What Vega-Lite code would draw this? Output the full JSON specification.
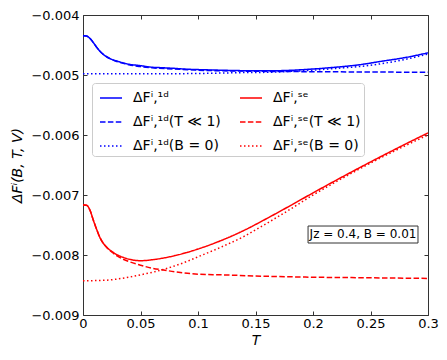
{
  "$schema": "https://vega.github.io/schema/vega-lite/v6.json",
  "width": 345,
  "height": 300,
  "autosize": {"type": "none"},
  "padding": {"left": 83, "top": 15, "right": 19, "bottom": 45},
  "background": "white",
  "config": {
    "font": "DejaVu Sans",
    "view": {"stroke": "#333", "strokeWidth": 1},
    "axis": {
      "grid": false,
      "domain": false,
      "tickColor": "#333",
      "tickSize": -4,
      "tickWidth": 1,
      "labelFont": "DejaVu Sans",
      "labelFontSize": 13,
      "labelColor": "black",
      "titleFont": "DejaVu Sans",
      "titleFontSize": 14,
      "titleFontWeight": "normal",
      "titleColor": "black"
    }
  },
  "datasets": {
    "curves": [
      {"s": "A", "T": 0, "F": -0.004345}, {"s": "A", "T": 0.003, "F": -0.00435}, {"s": "A", "T": 0.006, "F": -0.00439},
      {"s": "A", "T": 0.009, "F": -0.00446}, {"s": "A", "T": 0.012, "F": -0.00454}, {"s": "A", "T": 0.015, "F": -0.00461},
      {"s": "A", "T": 0.02, "F": -0.00469}, {"s": "A", "T": 0.025, "F": -0.00474}, {"s": "A", "T": 0.03, "F": -0.00477},
      {"s": "A", "T": 0.035, "F": -0.0048}, {"s": "A", "T": 0.04, "F": -0.00482}, {"s": "A", "T": 0.05, "F": -0.004845},
      {"s": "A", "T": 0.06, "F": -0.00487}, {"s": "A", "T": 0.07, "F": -0.00488}, {"s": "A", "T": 0.08, "F": -0.00489},
      {"s": "A", "T": 0.09, "F": -0.004903}, {"s": "A", "T": 0.1, "F": -0.00491}, {"s": "A", "T": 0.12, "F": -0.00492},
      {"s": "A", "T": 0.14, "F": -0.004928}, {"s": "A", "T": 0.16, "F": -0.00493}, {"s": "A", "T": 0.18, "F": -0.004922},
      {"s": "A", "T": 0.2, "F": -0.0049}, {"s": "A", "T": 0.22, "F": -0.00487}, {"s": "A", "T": 0.24, "F": -0.00483},
      {"s": "A", "T": 0.26, "F": -0.00477}, {"s": "A", "T": 0.28, "F": -0.00471}, {"s": "A", "T": 0.3, "F": -0.00463},

      {"s": "C", "T": 0, "F": -0.004345}, {"s": "C", "T": 0.003, "F": -0.00435}, {"s": "C", "T": 0.006, "F": -0.00439},
      {"s": "C", "T": 0.009, "F": -0.00446}, {"s": "C", "T": 0.012, "F": -0.00454}, {"s": "C", "T": 0.015, "F": -0.00461},
      {"s": "C", "T": 0.02, "F": -0.00469}, {"s": "C", "T": 0.025, "F": -0.00474}, {"s": "C", "T": 0.03, "F": -0.00478},
      {"s": "C", "T": 0.035, "F": -0.004805}, {"s": "C", "T": 0.04, "F": -0.00483}, {"s": "C", "T": 0.05, "F": -0.00486},
      {"s": "C", "T": 0.06, "F": -0.00488}, {"s": "C", "T": 0.08, "F": -0.0049}, {"s": "C", "T": 0.1, "F": -0.00492},
      {"s": "C", "T": 0.12, "F": -0.00493}, {"s": "C", "T": 0.14, "F": -0.004935}, {"s": "C", "T": 0.16, "F": -0.00494},
      {"s": "C", "T": 0.2, "F": -0.004945}, {"s": "C", "T": 0.25, "F": -0.00495}, {"s": "C", "T": 0.3, "F": -0.004955},

      {"s": "E", "T": 0, "F": -0.00498}, {"s": "E", "T": 0.05, "F": -0.00498}, {"s": "E", "T": 0.1, "F": -0.004975},
      {"s": "E", "T": 0.14, "F": -0.00496}, {"s": "E", "T": 0.16, "F": -0.004955}, {"s": "E", "T": 0.18, "F": -0.00494},
      {"s": "E", "T": 0.2, "F": -0.00492}, {"s": "E", "T": 0.22, "F": -0.00489}, {"s": "E", "T": 0.24, "F": -0.00486},
      {"s": "E", "T": 0.26, "F": -0.00481}, {"s": "E", "T": 0.28, "F": -0.00474}, {"s": "E", "T": 0.3, "F": -0.00465},

      {"s": "B", "T": 0, "F": -0.007167}, {"s": "B", "T": 0.003, "F": -0.00717}, {"s": "B", "T": 0.006, "F": -0.00725},
      {"s": "B", "T": 0.009, "F": -0.00742}, {"s": "B", "T": 0.012, "F": -0.00758}, {"s": "B", "T": 0.015, "F": -0.00772},
      {"s": "B", "T": 0.02, "F": -0.00786}, {"s": "B", "T": 0.025, "F": -0.00794}, {"s": "B", "T": 0.03, "F": -0.008},
      {"s": "B", "T": 0.035, "F": -0.00804}, {"s": "B", "T": 0.04, "F": -0.00807}, {"s": "B", "T": 0.05, "F": -0.008095},
      {"s": "B", "T": 0.06, "F": -0.00808}, {"s": "B", "T": 0.07, "F": -0.00805}, {"s": "B", "T": 0.08, "F": -0.00801},
      {"s": "B", "T": 0.09, "F": -0.00796}, {"s": "B", "T": 0.1, "F": -0.0079}, {"s": "B", "T": 0.12, "F": -0.00776},
      {"s": "B", "T": 0.14, "F": -0.00759}, {"s": "B", "T": 0.16, "F": -0.00739}, {"s": "B", "T": 0.18, "F": -0.00718},
      {"s": "B", "T": 0.2, "F": -0.006965}, {"s": "B", "T": 0.22, "F": -0.006755}, {"s": "B", "T": 0.24, "F": -0.00655},
      {"s": "B", "T": 0.26, "F": -0.00635}, {"s": "B", "T": 0.28, "F": -0.006155}, {"s": "B", "T": 0.3, "F": -0.005965},

      {"s": "D", "T": 0, "F": -0.007167}, {"s": "D", "T": 0.003, "F": -0.00717}, {"s": "D", "T": 0.006, "F": -0.00725},
      {"s": "D", "T": 0.009, "F": -0.00742}, {"s": "D", "T": 0.012, "F": -0.00758}, {"s": "D", "T": 0.015, "F": -0.00772},
      {"s": "D", "T": 0.02, "F": -0.00786}, {"s": "D", "T": 0.025, "F": -0.00795}, {"s": "D", "T": 0.03, "F": -0.00802},
      {"s": "D", "T": 0.035, "F": -0.00807}, {"s": "D", "T": 0.04, "F": -0.00811}, {"s": "D", "T": 0.05, "F": -0.00817},
      {"s": "D", "T": 0.06, "F": -0.00822}, {"s": "D", "T": 0.07, "F": -0.00825}, {"s": "D", "T": 0.08, "F": -0.00828},
      {"s": "D", "T": 0.1, "F": -0.00832}, {"s": "D", "T": 0.12, "F": -0.00833}, {"s": "D", "T": 0.15, "F": -0.00835},
      {"s": "D", "T": 0.2, "F": -0.00837}, {"s": "D", "T": 0.25, "F": -0.00838}, {"s": "D", "T": 0.3, "F": -0.00839},

      {"s": "F", "T": 0, "F": -0.00843}, {"s": "F", "T": 0.02, "F": -0.00842}, {"s": "F", "T": 0.03, "F": -0.0084},
      {"s": "F", "T": 0.04, "F": -0.00837}, {"s": "F", "T": 0.05, "F": -0.00833}, {"s": "F", "T": 0.06, "F": -0.00829},
      {"s": "F", "T": 0.07, "F": -0.00824}, {"s": "F", "T": 0.08, "F": -0.00818}, {"s": "F", "T": 0.09, "F": -0.00811},
      {"s": "F", "T": 0.1, "F": -0.00803}, {"s": "F", "T": 0.12, "F": -0.00787}, {"s": "F", "T": 0.14, "F": -0.00769},
      {"s": "F", "T": 0.16, "F": -0.00747}, {"s": "F", "T": 0.18, "F": -0.00724}, {"s": "F", "T": 0.2, "F": -0.007},
      {"s": "F", "T": 0.22, "F": -0.00678}, {"s": "F", "T": 0.24, "F": -0.00657}, {"s": "F", "T": 0.26, "F": -0.00637},
      {"s": "F", "T": 0.28, "F": -0.00618}, {"s": "F", "T": 0.3, "F": -0.006}
    ],
    "note": [
      {"T1": 0.1957, "T2": 0.2913, "F1": -0.007517, "F2": -0.0078, "Tc": 0.2435, "Fc": -0.007658, "label": "Jz = 0.4, B = 0.01"}
    ]
  },
  "layer": [
    {
      "data": {"name": "curves"},
      "mark": {"type": "line", "strokeWidth": 1.5, "interpolate": "monotone", "clip": true},
      "encoding": {
        "x": {
          "field": "T", "type": "quantitative",
          "scale": {"domain": [0, 0.3], "nice": false, "zero": false},
          "axis": {"orient": "bottom", "title": "T", "titleFontStyle": "italic", "values": [0, 0.05, 0.1, 0.15, 0.2, 0.25, 0.3], "format": "~g", "labelPadding": 6, "titlePadding": 3, "labelFlush": false}
        },
        "y": {
          "field": "F", "type": "quantitative",
          "scale": {"domain": [-0.009, -0.004], "nice": false, "zero": false},
          "axis": {"orient": "left", "title": "ΔFⁱ(B, T, V)", "titleFontStyle": "italic", "values": [-0.009, -0.008, -0.007, -0.006, -0.005, -0.004], "format": ".3f", "labelPadding": 8, "titlePadding": 6, "labelFlush": false}
        },
        "color": {
          "field": "s", "type": "nominal",
          "scale": {"domain": ["A", "B", "C", "D", "E", "F"], "range": ["#0000ff", "#ff0000", "#0000ff", "#ff0000", "#0000ff", "#ff0000"]},
          "legend": {
            "orient": "none", "legendX": 9, "legendY": 68, "columns": 2, "title": null,
            "direction": "horizontal",
            "symbolType": "stroke", "symbolSize": 484, "symbolStrokeWidth": 1.5,
            "labelFontSize": 14, "labelFont": "DejaVu Sans", "labelColor": "black", "labelOffset": 10,
            "labelExpr": "datum.label == 'A' ? 'ΔFⁱ,¹ᵈ' : datum.label == 'B' ? 'ΔFⁱ,ˢᵉ' : datum.label == 'C' ? 'ΔFⁱ,¹ᵈ(T ≪ 1)' : datum.label == 'D' ? 'ΔFⁱ,ˢᵉ(T ≪ 1)' : datum.label == 'E' ? 'ΔFⁱ,¹ᵈ(B = 0)' : 'ΔFⁱ,ˢᵉ(B = 0)'",
            "fillColor": "white", "strokeColor": "#cccccc", "cornerRadius": 3, "padding": 3, "rowPadding": 5, "columnPadding": 14, "symbolOffset": 4
          }
        },
        "strokeDash": {
          "field": "s", "type": "nominal",
          "scale": {"domain": ["A", "B", "C", "D", "E", "F"], "range": [[1, 0], [1, 0], [5.5, 2.4], [5.5, 2.4], [1.5, 2.5], [1.5, 2.5]]},
          "legend": null
        }
      }
    },
    {
      "data": {"name": "note"},
      "mark": {"type": "rect", "fill": "white", "stroke": "#333", "strokeWidth": 1},
      "encoding": {
        "x": {"field": "T1", "type": "quantitative", "axis": null},
        "x2": {"field": "T2"},
        "y": {"field": "F1", "type": "quantitative", "axis": null},
        "y2": {"field": "F2"}
      }
    },
    {
      "data": {"name": "note"},
      "mark": {"type": "text", "fontSize": 12, "font": "DejaVu Sans", "color": "black", "align": "center", "baseline": "middle"},
      "encoding": {
        "x": {"field": "Tc", "type": "quantitative", "axis": {"orient": "top", "labels": false, "title": null, "values": [0, 0.05, 0.1, 0.15, 0.2, 0.25, 0.3]}},
        "y": {"field": "Fc", "type": "quantitative", "axis": {"orient": "right", "labels": false, "title": null, "values": [-0.009, -0.008, -0.007, -0.006, -0.005, -0.004]}},
        "text": {"field": "label"}
      }
    }
  ]
}
